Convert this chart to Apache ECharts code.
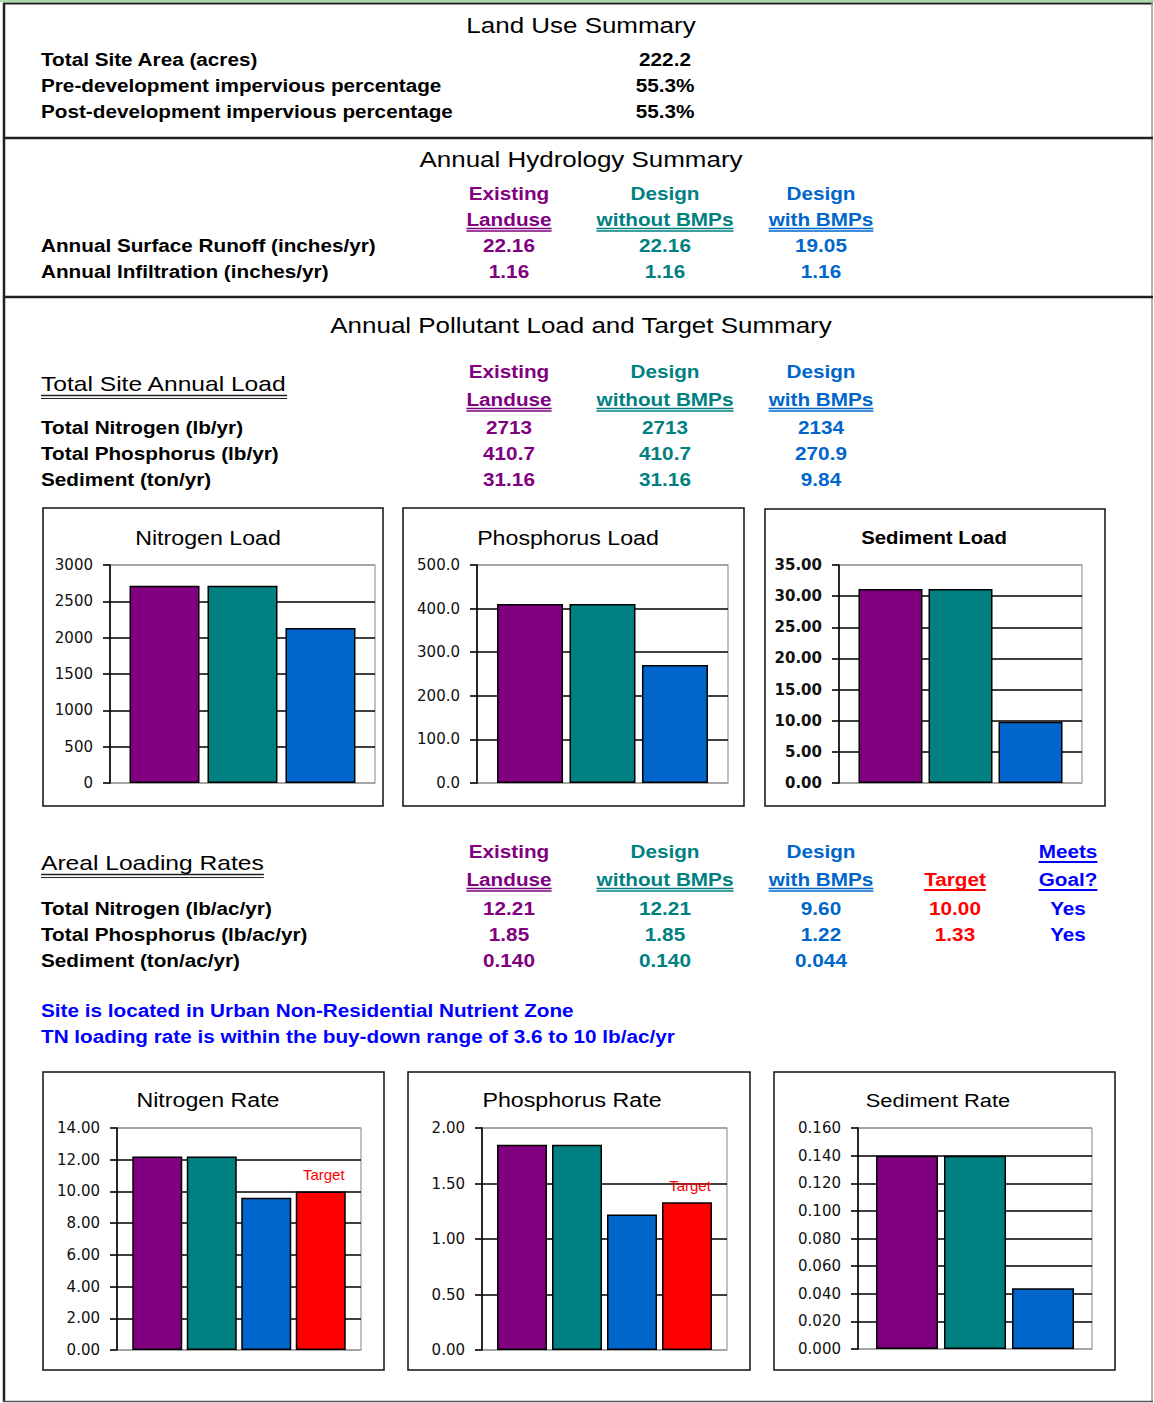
<!DOCTYPE html>
<html><head><meta charset="utf-8">
<script src="https://cdn.jsdelivr.net/npm/echarts@6/dist/echarts.min.js"></script>
<style>html,body{margin:0;padding:0;background:#fff}#c{width:1154px;height:1403px}</style>
</head><body><div id="c"></div>
<script>
// ---------------- DATA ----------------
const scenarioHeadTop = ['Existing', 'Design', 'Design'];
const scenarioHeadBottom = ['Landuse', 'without BMPs', 'with BMPs'];
const landUseLabels = ['Total Site Area (acres)', 'Pre-development impervious percentage', 'Post-development impervious percentage'];
const landUseValues = ['222.2', '55.3%', '55.3%'];
const hydrologyLabels = ['Annual Surface Runoff (inches/yr)', 'Annual Infiltration (inches/yr)'];
const runoff = [22.16, 22.16, 19.05];
const infiltration = [1.16, 1.16, 1.16];
const loadLabels = ['Total Nitrogen (lb/yr)', 'Total Phosphorus (lb/yr)', 'Sediment (ton/yr)'];
const nitrogenLoad = [2713, 2713, 2134];
const phosphorusLoad = [410.7, 410.7, 270.9];
const sedimentLoad = [31.16, 31.16, 9.84];
const rateLabels = ['Total Nitrogen (lb/ac/yr)', 'Total Phosphorus (lb/ac/yr)', 'Sediment (ton/ac/yr)'];
const nitrogenRate = [12.21, 12.21, 9.60];
const phosphorusRate = [1.85, 1.85, 1.22];
const sedimentRate = [0.140, 0.140, 0.044];
const rateTargets = [10.00, 1.33, null];
const meetsGoal = ['Yes', 'Yes', ''];
const notes = ['Site is located in Urban Non-Residential Nutrient Zone', 'TN loading rate is within the buy-down range of 3.6 to 10 lb/ac/yr'];
const chartTitles = ['Nitrogen Load', 'Phosphorus Load', 'Sediment Load', 'Nitrogen Rate', 'Phosphorus Rate', 'Sediment Rate'];
const yMax = [3000, 500, 35, 14, 2, 0.16];
const yStep = [500, 100, 5, 2, 0.5, 0.02];
const yDecimals = [0, 1, 2, 2, 2, 3];
const targetLabel = 'Target';

// ---------------- STYLE / LAYOUT ----------------
const FF = "'Liberation Sans', Arial, sans-serif";
const barColors = ['#800080', '#008080', '#0066CC'];
const textColors = ['#800080', '#008080', '#0066CC'];
const targetColor = '#FF0000';
const goalColor = '#0000FF';
const colX = [509, 665, 821];

const mctx = document.createElement('canvas').getContext('2d');
function tw(text, size, bold) { mctx.font = (bold ? 'bold ' : '') + size + 'px ' + FF; return mctx.measureText(text).width; }
const G = [];
function T(text, x, y, o) {
  o = o || {};
  const size = o.size || 18.5, bold = o.bold !== false, sx = o.sx || 1.12;
  G.push({ type: 'text', x: x, y: y, scaleX: sx, silent: true, z: 10,
    style: { text: text, x: 0, y: 0, fill: o.color || '#000', fontSize: size, fontWeight: bold ? 'bold' : 'normal',
      fontFamily: FF, align: o.align || 'left', verticalAlign: 'middle' } });
  return tw(text, size, bold) * sx;
}
function L(x1, y1, x2, y2, color, w) {
  G.push({ type: 'line', silent: true, z: 10, shape: { x1: x1, y1: y1, x2: x2, y2: y2 }, style: { stroke: color, lineWidth: w } });
}
function R(x, y, w, h, color, lw) {
  G.push({ type: 'rect', silent: true, z: 0, shape: { x: x, y: y, width: w, height: h }, style: { fill: 'none', stroke: color, lineWidth: lw } });
}
function headers(yTop, yBot) {
  for (let j = 0; j < 3; j++) {
    T(scenarioHeadTop[j], colX[j], yTop, { color: textColors[j], align: 'center' });
    const w = T(scenarioHeadBottom[j], colX[j], yBot, { color: textColors[j], align: 'center' });
    L(colX[j] - w / 2, yBot + 9.5, colX[j] + w / 2, yBot + 9.5, textColors[j], 1.6);
    L(colX[j] - w / 2, yBot + 12, colX[j] + w / 2, yBot + 12, textColors[j], 1.6);
  }
}
function valueRow(label, vals, dec, y) {
  T(label, 41, y);
  vals.forEach((v, j) => T(v.toFixed(dec), colX[j], y, { color: textColors[j], align: 'center' }));
}
const titleOpt = { size: 22, bold: false, sx: 1.18, align: 'center' };

// frame
G.push({ type: 'rect', silent: true, shape: { x: 0, y: 0, width: 1154, height: 2 }, style: { fill: '#a8dca8' } });
L(3, 3.5, 1153, 3.5, '#222', 2);
L(4, 3, 4, 1402, '#222', 2.5);
L(1152, 3, 1152, 1402, '#999', 1.5);
L(3, 1401.5, 1153, 1401.5, '#555', 1.5);
L(3, 138, 1153, 138, '#222', 2.5);
L(3, 297, 1153, 297, '#222', 2.5);

// Land use
T('Land Use Summary', 581, 25, titleOpt);
landUseLabels.forEach((l, k) => { T(l, 41, 59 + 26 * k); T(landUseValues[k], 665, 59 + 26 * k, { align: 'center' }); });

// Hydrology
T('Annual Hydrology Summary', 581, 159, titleOpt);
headers(193, 219);
valueRow(hydrologyLabels[0], runoff, 2, 245);
valueRow(hydrologyLabels[1], infiltration, 2, 271);

// Pollutant load
T('Annual Pollutant Load and Target Summary', 581, 325, titleOpt);
let w = T('Total Site Annual Load', 41, 384, { size: 20.5, bold: false, sx: 1.2 });
L(41, 395.5, 41 + w, 395.5, '#222', 1.6); L(41, 398.5, 41 + w, 398.5, '#222', 1);
headers(371, 399);
valueRow(loadLabels[0], nitrogenLoad, 0, 427);
valueRow(loadLabels[1], phosphorusLoad, 1, 453);
valueRow(loadLabels[2], sedimentLoad, 2, 479);

// Areal rates
w = T('Areal Loading Rates', 41, 863, { size: 20.5, bold: false, sx: 1.2 });
L(41, 874.5, 41 + w, 874.5, '#222', 1.6); L(41, 877.5, 41 + w, 877.5, '#222', 1);
headers(851, 879);
w = T('Target', 955, 879, { color: targetColor, align: 'center' });
L(955 - w / 2, 890, 955 + w / 2, 890, targetColor, 1.8);
w = T('Meets', 1068, 851, { color: goalColor, align: 'center' });
L(1068 - w / 2, 862, 1068 + w / 2, 862, goalColor, 1.8);
w = T('Goal?', 1068, 879, { color: goalColor, align: 'center' });
L(1068 - w / 2, 890, 1068 + w / 2, 890, goalColor, 1.8);
const rateSets = [nitrogenRate, phosphorusRate, sedimentRate];
const rateDec = [2, 2, 3];
rateLabels.forEach((l, k) => {
  const y = 908 + 26 * k;
  valueRow(l, rateSets[k], rateDec[k], y);
  if (rateTargets[k] != null) T(rateTargets[k].toFixed(2), 955, y, { color: targetColor, align: 'center' });
  if (meetsGoal[k]) T(meetsGoal[k], 1068, y, { color: goalColor, align: 'center' });
});
T(notes[0], 41, 1010, { color: goalColor });
T(notes[1], 41, 1036, { color: goalColor });

// ---------------- CHARTS ----------------
const charts = [
  { vals: nitrogenLoad, box: [43, 508, 340, 298], grid: [110, 565, 265, 218], bw: 70, gap: 8, tx: 208, ty: 538 },
  { vals: phosphorusLoad, box: [403, 508, 341, 298], grid: [477, 565, 251, 218], bw: 66, gap: 6.5, tx: 568, ty: 538 },
  { vals: sedimentLoad, box: [765, 509, 340, 297], grid: [839, 565, 243, 218], bw: 64, gap: 6, tx: 934, ty: 538, bold: true },
  { vals: nitrogenRate, target: rateTargets[0], box: [43, 1072, 341, 298], grid: [117, 1128, 244, 222], bw: 50, gap: 4.5, tx: 208, ty: 1100 },
  { vals: phosphorusRate, target: rateTargets[1], box: [408, 1072, 342, 298], grid: [482, 1128, 245, 222], bw: 50, gap: 5, tx: 572, ty: 1100 },
  { vals: sedimentRate, box: [774, 1072, 341, 298], grid: [858, 1128, 234, 221], bw: 62, gap: 6, tx: 938, ty: 1100 }
];
const grids = [], xAxes = [], yAxes = [], series = [];
charts.forEach((c, i) => {
  R(c.box[0], c.box[1], c.box[2], c.box[3], '#111', 1.5);
  if (c.bold) T(chartTitles[i], c.tx, c.ty, { size: 18, bold: true, sx: 1.13, align: 'center' });
  else if (i === 5) T(chartTitles[i], c.tx, c.ty, { size: 19, bold: false, sx: 1.15, align: 'center' });
  else T(chartTitles[i], c.tx, c.ty, { size: 20, bold: false, sx: 1.16, align: 'center' });
  grids.push({ left: c.grid[0], top: c.grid[1], width: c.grid[2], height: c.grid[3], show: true, borderColor: '#999', borderWidth: 1.2, backgroundColor: '#fff' });
  xAxes.push({ type: 'category', gridIndex: i, data: [chartTitles[i]], axisLine: { show: false }, axisTick: { show: false }, axisLabel: { show: false }, splitLine: { show: false } });
  const n = Math.round(yMax[i] / yStep[i]);
  const sc = []; for (let k = 0; k <= n; k++) sc.push(k === 0 || k === n ? '#999' : '#000');
  yAxes.push({ type: 'value', gridIndex: i, min: 0, max: yMax[i], interval: yStep[i],
    axisLine: { show: true, lineStyle: { color: '#000', width: 1.6 } },
    axisTick: { show: true, length: 7, lineStyle: { color: '#000', width: 1.6 } },
    axisLabel: { margin: 17, color: '#111', fontFamily: 'DejaVu Sans', fontSize: 15, fontWeight: c.bold ? 'bold' : 'normal',
      formatter: v => Number(v).toFixed(yDecimals[i]) },
    splitLine: { show: true, lineStyle: { color: sc, width: 1.6 } } });
  c.vals.forEach((v, j) => series.push({ type: 'bar', xAxisIndex: i, yAxisIndex: i, data: [v], barWidth: c.bw,
    barGap: (c.gap / c.bw * 100).toFixed(1) + '%', silent: true,
    itemStyle: { color: barColors[j], borderColor: '#000', borderWidth: 1.5 } }));
  if (c.target != null) series.push({ type: 'bar', xAxisIndex: i, yAxisIndex: i, data: [c.target], barWidth: c.bw,
    barGap: (c.gap / c.bw * 100).toFixed(1) + '%', silent: true,
    itemStyle: { color: targetColor, borderColor: '#000', borderWidth: 1.5 },
    label: { show: true, position: 'top', distance: 9, offset: [3, 0], formatter: targetLabel, color: targetColor, fontSize: 15, fontFamily: FF } });
});

const chart = echarts.init(document.getElementById('c'), null, { renderer: 'svg', width: 1154, height: 1403 });
chart.setOption({ animation: false, backgroundColor: '#fff', grid: grids, xAxis: xAxes, yAxis: yAxes, series: series, graphic: G });
</script>
</body></html>
